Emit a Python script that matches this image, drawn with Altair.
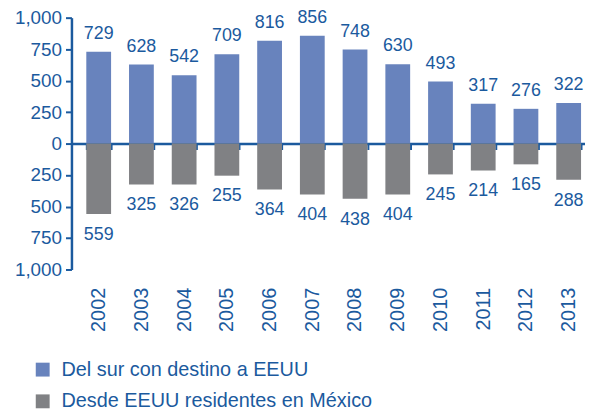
import altair as alt
import pandas as pd

years = [str(y) for y in range(2002, 2014)]
sur = [729, 628, 542, 709, 816, 856, 748, 630, 493, 317, 276, 322]
desde = [559, 325, 326, 255, 364, 404, 438, 404, 245, 214, 165, 288]
series = ["Del sur con destino a EEUU", "Desde EEUU residentes en México"]

rows = []
for y, a, b in zip(years, sur, desde):
    rows.append({"year": y, "serie": series[0], "value": a, "label": a})
    rows.append({"year": y, "serie": series[1], "value": -b, "label": b})
df = pd.DataFrame(rows)

BLUE_TXT = "#1b5a9e"
FONT = "Liberation Sans"
yticks = [-1000, -750, -500, -250, 0, 250, 500, 750, 1000]

x = alt.X("year:N", title=None,
          scale=alt.Scale(paddingInner=0.42, paddingOuter=0.22, align=0.79),
          axis=alt.Axis(orient="bottom", offset=-127, labelAngle=270,
                        labelPadding=139, labelFontSize=20, labelColor=BLUE_TXT,
                        labelFont=FONT, domainColor=BLUE_TXT, domainWidth=2.5,
                        tickColor=BLUE_TXT, tickWidth=2, tickSize=6,
                        tickBand="extent", grid=False, labelOverlap=False))
y = alt.Y("value:Q", title=None,
          scale=alt.Scale(domain=[-1000, 1000], nice=False),
          axis=alt.Axis(values=yticks, tickCount=9,
                        labelExpr="format(abs(datum.value), ',')",
                        labelFontSize=19, labelColor=BLUE_TXT, labelFont=FONT,
                        labelPadding=4, tickSize=6, tickWidth=2,
                        tickColor=BLUE_TXT, domainColor=BLUE_TXT,
                        domainWidth=2.5, grid=False, labelOverlap=False,
                        labelBound=False))

bars = alt.Chart(df).mark_bar().encode(
    x=x, y=y,
    color=alt.Color("serie:N", title=None,
                    scale=alt.Scale(domain=series, range=["#6883bd", "#808184"]),
                    legend=alt.Legend(orient="none", legendX=-39, legendY=345,
                                      symbolType="square", symbolSize=196,
                                      symbolStrokeWidth=0, labelLimit=0,
                                      labelFontSize=20, labelFont=FONT,
                                      labelColor=BLUE_TXT, rowPadding=12,
                                      labelOffset=9, direction="vertical")),
)

pos = alt.Chart(df).transform_filter("datum.value > 0").mark_text(
    baseline="bottom", dy=-9, fontSize=18, font=FONT, color=BLUE_TXT
).encode(x=x, y=y, text="label:Q")

neg = alt.Chart(df).transform_filter("datum.value < 0").mark_text(
    baseline="top", dy=12, fontSize=18, font=FONT, color=BLUE_TXT
).encode(x=x, y=y, text="label:Q")

chart = alt.layer(bars, pos, neg).properties(
    width=518, height=254,
    autosize=alt.AutoSizeParams(type="none"),
    padding={"left": 64, "top": 8, "right": 0, "bottom": 142},
).configure_view(stroke=None)

chart.save("out.html", embed_options={"renderer": "svg", "actions": False})
